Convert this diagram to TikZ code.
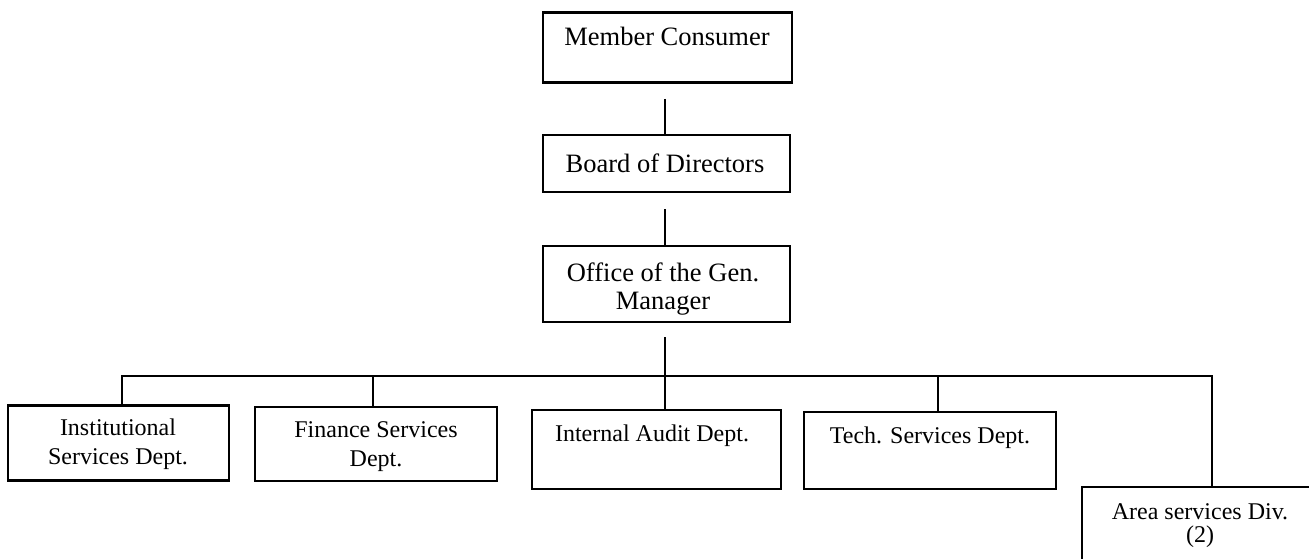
\documentclass[tikz,border=0pt]{standalone}
\usepackage{fontspec}
\setmainfont{Liberation Serif}
\begin{document}
\begin{tikzpicture}[x=1pt,y=-1pt,
  box/.style={draw=black, line width=2.8pt, rectangle, inner sep=0pt, fill=white},
  toptxt/.style={font=\fontsize{26.5}{30}\selectfont, inner sep=0pt, anchor=base},
  lowtxt/.style={font=\fontsize{24}{25}\selectfont, inner sep=0pt, anchor=base},
  link/.style={draw=black, line width=1.5pt}]
\useasboundingbox (0,0) rectangle (1309,559);

% upper chain
\node[box, minimum width=249pt, minimum height=70pt] (mc) at (667.5,47.5) {};
\node[toptxt] (mct) at (667,46) {Member Consumer};
\node[box, minimum width=247pt, minimum height=57pt] (bd) at (666.5,163.5) {};
\node[toptxt] (bdt) at (665,172) {Board of Directors};
\node[box, minimum width=247pt, minimum height=76pt] (gm) at (666.5,284) {};
\node[toptxt] (gmt1) at (663,281) {Office of the Gen.};
\node[toptxt] (gmt2) at (663,309) {Manager};

% departments
\node[box, minimum width=221pt, minimum height=75pt] (inst) at (118.5,443) {};
\node[lowtxt] at (118,435) {Institutional};
\node[lowtxt] at (118,464) {Services Dept.};
\node[box, minimum width=242pt, minimum height=74pt] (fin) at (376,444) {};
\node[lowtxt] at (376,437) {Finance Services};
\node[lowtxt] at (376,466) {Dept.};
\node[box, minimum width=249pt, minimum height=79pt] (ia) at (656.5,449.5) {};
\node[lowtxt] at (652,441) {Internal Audit Dept.};
\node[box, minimum width=252pt, minimum height=77pt] (tech) at (930,450.5) {};
\node[lowtxt] at (930,443) {Tech. Services Dept.};
\node[box, minimum width=240pt, minimum height=84pt] (area) at (1202,529) {};
\node[lowtxt] at (1200,519) {Area services Div.};
\node[lowtxt] at (1200,542) {(2)};

% connectors
\coordinate (bus) at (665,376);
\path[link] (mc.south -| bdt.north) ++(0,15) -- (bd.north -| bdt.north);
\path[link] (bd.south -| bdt.north) ++(0,16) -- (gm.north -| bdt.north);
\path[link] (gm.south -| bus) ++(0,14) -- (ia.north -| bus);
\path[link] ([xshift=3.5pt]inst.north) |- (bus) -| ([xshift=10pt]area.north);
\path[link] ([xshift=-3pt]fin.north) -- ([xshift=-3pt]fin.north |- bus);
\path[link] ([xshift=8pt]tech.north) -- ([xshift=8pt]tech.north |- bus);
\end{tikzpicture}
\end{document}
